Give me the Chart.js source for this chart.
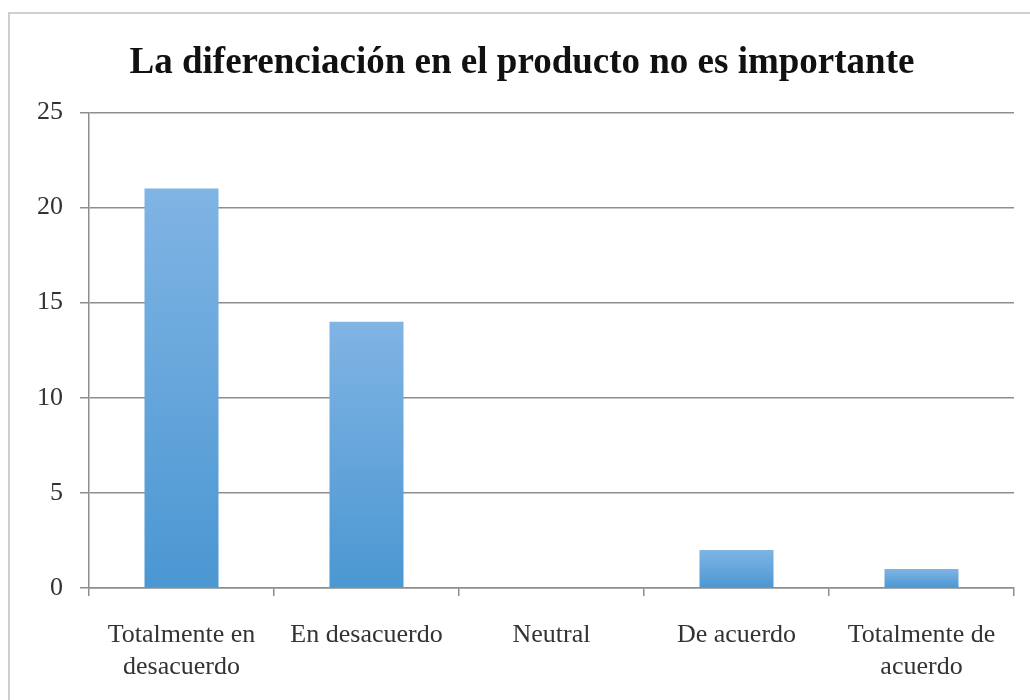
<!DOCTYPE html>
<html>
<head>
<meta charset="utf-8">
<script src="https://cdn.jsdelivr.net/npm/chart.js@4/dist/chart.umd.min.js"></script>
<style>
  html, body { margin: 0; padding: 0; background: #fff; overflow: hidden; }
  #wrap { position: relative; width: 1030px; height: 700px; }
  #frame { position: absolute; left: 8px; top: 12px; width: 1100px; height: 800px;
           border-left: 2px solid #cfcfcf; border-top: 2px solid #cfcfcf; box-sizing: border-box; }
  canvas { position: absolute; left: 0; top: 0; }
</style>
</head>
<body>
<div id="wrap">
  <div id="frame"></div>
  <canvas id="chart" width="1030" height="700"></canvas>
</div>
<script>
const categories = [
  ["Totalmente en", "desacuerdo"],
  "En desacuerdo",
  "Neutral",
  "De acuerdo",
  ["Totalmente de", "acuerdo"]
];
const counts = [21, 14, 0, 2, 1];
const yTicks = [0, 5, 10, 15, 20, 25];

const serif = "'Liberation Serif', 'Times New Roman', serif";

function barFill(context) {
  const chart = context.chart;
  if (!chart.chartArea || !chart.scales.y) return "#5b9fd8";
  const y = chart.scales.y;
  const top = y.getPixelForValue(context.raw);
  const base = y.getPixelForValue(0);
  if (!isFinite(top) || top === base) return "#5b9fd8";
  const g = chart.ctx.createLinearGradient(0, top, 0, base);
  g.addColorStop(0, "#80b4e4");
  g.addColorStop(1, "#4b97d2");
  return g;
}

const ctx = document.getElementById("chart");

const theChart = new Chart(ctx, {
  type: "bar",
  data: {
    labels: categories,
    datasets: [
      {
        label: "La diferenciación en el producto no es importante",
        data: counts,
        backgroundColor: barFill,
        borderWidth: 0,
        categoryPercentage: 1,
        barPercentage: 0.4,
      },
    ],
  },
  options: {
    responsive: false,
    animation: false,
    layout: { padding: { left: 30, right: 16, top: 0, bottom: 0 } },
    plugins: {
      legend: { display: false },
      tooltip: { enabled: false },
      title: {
        display: true,
        text: "La diferenciación en el producto no es importante",
        color: "#111",
        font: { family: serif, size: 37, weight: "bold" },
        padding: { top: 41, bottom: 27 },
      },
    },
    scales: {
      y: {
        min: 0,
        max: 25,
        afterBuildTicks: (scale) => { scale.ticks = yTicks.map((v) => ({ value: v })); },
        afterFit: (scale) => { scale.width = 59; },
        ticks: { color: "#333", font: { family: serif, size: 26 }, padding: 17 },
        grid: { color: "#8e8e8e", lineWidth: 1.5, tickLength: 9 },
        border: { color: "#8e8e8e", width: 1.5 },
      },
      x: {
        afterFit: (scale) => { scale.height = 112; },
        ticks: { color: "#333", font: { family: serif, size: 26, lineHeight: 1.2 }, padding: 24, maxRotation: 0, autoSkip: false },
        grid: { offset: true, drawOnChartArea: false, color: "#8e8e8e", lineWidth: 1.5, tickLength: 8 },
        border: { color: "#8e8e8e", width: 1.5 },
      },
    },
  },
});
</script>
</body>
</html>
